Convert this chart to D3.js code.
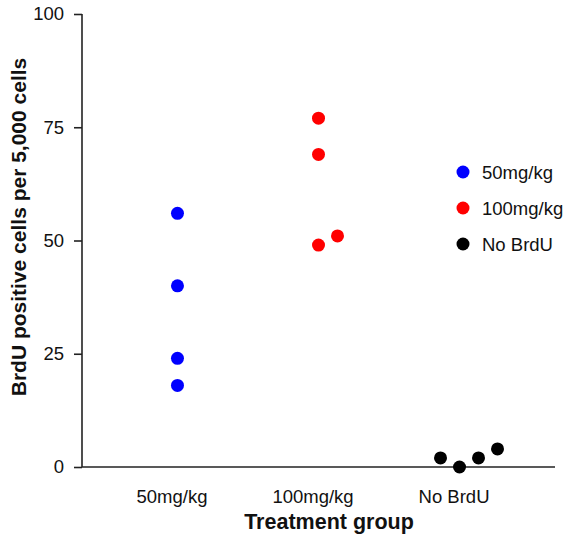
<!DOCTYPE html>
<html lang="en">
<head>
<meta charset="UTF-8">
<title>BrdU positive cells</title>
<script src="https://d3js.org/d3.v7.min.js"></script>
<style>
    body { margin: 0; background: #fff; }
    text { font-family: "Liberation Sans", Arial, sans-serif; fill: #111; }
    .axis path, .axis line { stroke: #222; stroke-width: 1.6px; }
    .axis text { font-size: 18.5px; }
    .title { font-weight: bold; }
</style>
</head>
<body>
<svg id="chart" width="565" height="539"></svg>
<script>
// categories and values
const groups = ["50mg/kg", "100mg/kg", "No BrdU"];
const colors = ["#0000ff", "#ff0000", "#000000"];
const dose50 = [56, 40, 24, 18];
const dose100 = [77, 69, 49, 51];
const noBrdU = [2, 0, 2, 4];
// jitter slot of each point inside its group
const jit50 = [0, 0, 0, 0];
const jit100 = [0, 0, 0, 1];
const jitNo = [-1, 0, 1, 2];
const yTicks = [0, 25, 50, 75, 100];

const series = [dose50, dose100, noBrdU];
const jitters = [jit50, jit100, jitNo];

const svg = d3.select("#chart");
const mLeft = 82, mRight = 555, mTop = 14, mBottom = 467;

const x = d3.scalePoint().domain(groups).range([mLeft, mRight]).padding(0.677);
const y = d3.scaleLinear().domain([0, 100]).range([mBottom, mTop]);
const jitterStep = 19;

// y axis
svg.append("g")
    .attr("class", "axis")
    .attr("transform", `translate(${mLeft},0)`)
    .call(d3.axisLeft(y).tickValues(yTicks).tickSize(8).tickPadding(10).tickSizeOuter(0))
    .call(g => g.select(".domain").attr("d", `M0,${mTop}V${mBottom}`));

// x axis, no ticks
const xa = svg.append("g")
    .attr("class", "axis")
    .attr("transform", `translate(0,${mBottom})`)
    .call(d3.axisBottom(x).tickSize(0).tickPadding(23).tickSizeOuter(0));
xa.select(".domain").attr("d", `M${mLeft},0H${mRight}`);
xa.selectAll(".tick text").attr("dx", -6);

// points
series.forEach((vals, i) => {
    svg.append("g")
        .selectAll("circle")
        .data(vals)
        .join("circle")
        .attr("cx", (d, j) => x(groups[i]) + jitters[i][j] * jitterStep)
        .attr("cy", d => y(d))
        .attr("r", 6.5)
        .attr("fill", colors[i]);
});

// legend
const legend = svg.append("g").attr("transform", "translate(463,172)");
groups.forEach((g, i) => {
    const row = legend.append("g").attr("transform", `translate(0,${i * 36})`);
    row.append("circle").attr("r", 6.5).attr("fill", colors[i]);
    row.append("text").attr("x", 19).attr("y", 6.5)
        .style("font-size", "18.5px").text(g);
});

// axis titles
svg.append("text")
    .attr("class", "title")
    .attr("x", 329).attr("y", 529)
    .attr("text-anchor", "middle")
    .style("font-size", "21.5px")
    .text("Treatment group");

svg.append("text")
    .attr("class", "title")
    .attr("transform", "translate(26,227) rotate(-90)")
    .attr("text-anchor", "middle")
    .style("font-size", "21px")
    .text("BrdU positive cells per 5,000 cells");
</script>
</body>
</html>
